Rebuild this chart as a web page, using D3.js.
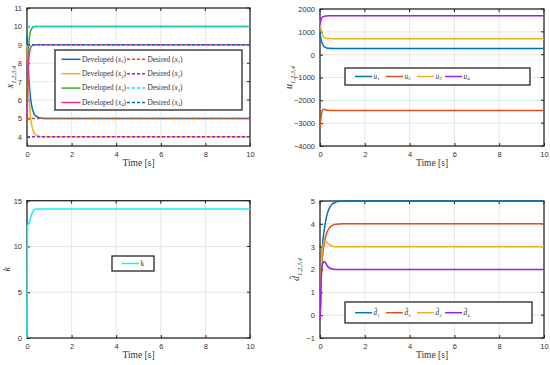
<!DOCTYPE html>
<html>
<head>
<meta charset="utf-8">
<script src="https://d3js.org/d3.v7.min.js"></script>
<style>
  body { margin: 0; background: #fff; }
  svg { display: block; font-family: "Liberation Serif", "DejaVu Serif", serif; }
  .grid line { stroke: #e0e0e0; stroke-width: 0.8; }
  .tick text { fill: #333; font-size: 7.5px; }
</style>
</head>
<body>
<svg id="chart" width="550" height="365"></svg>
<script>
// ---- data ----
const xTicks = [0, 2, 4, 6, 8, 10];

// panel 1: states
const tState = [0, 0.05, 0.1, 0.15, 0.2, 0.3, 0.4, 0.6, 0.8, 1, 10];
const x1 = [9.5, 8.0, 6.9, 6.2, 5.75, 5.3, 5.12, 5.02, 5, 5, 5];
const x2 = [9.0, 7.2, 6.0, 5.2, 4.7, 4.25, 4.1, 4.02, 4, 4, 4];
const x3 = [6.0, 8.3, 9.3, 9.7, 9.85, 9.97, 10, 10, 10, 10, 10];
const x4 = [5.0, 7.6, 8.5, 8.8, 8.92, 8.99, 9, 9, 9, 9, 9];
const tDesired = [0, 10];
const xd1 = [5, 5];
const xd2 = [4, 4];
const xd3 = [10, 10];
const xd4 = [9, 9];
const stateTicks = [4, 5, 6, 7, 8, 9, 10, 11];

// panel 2: inputs
const tInput = [0, 0.05, 0.1, 0.15, 0.2, 0.3, 0.4, 0.6, 1, 10];
const u1 = [950, 650, 500, 400, 340, 295, 280, 272, 270, 270];
const u2 = [-3200, -2700, -2450, -2390, -2400, -2430, -2440, -2450, -2450, -2450];
const u3 = [1500, 1100, 900, 800, 750, 715, 705, 700, 700, 700];
const u4 = [1300, 1550, 1640, 1670, 1685, 1695, 1700, 1700, 1700, 1700];
const inputTicks = [-4000, -3000, -2000, -1000, 0, 1000, 2000];

// panel 3: gain k
const tGain = [0, 0.02, 0.08, 0.18, 0.28, 0.4, 1, 10];
const k = [0, 12.3, 12.5, 13.3, 13.9, 14.08, 14.1, 14.1];
const gainTicks = [0, 5, 10, 15];

// panel 4: estimated disturbances
const tDist = [0, 0.05, 0.1, 0.2, 0.3, 0.4, 0.5, 0.7, 1, 10];
const dh1 = [-0.3, 1.8, 2.9, 3.8, 4.35, 4.65, 4.82, 4.95, 5, 5];
const dh2 = [-0.3, 1.5, 2.4, 3.2, 3.6, 3.8, 3.9, 3.98, 4, 4];
const dh3 = [-0.3, 1.8, 2.8, 3.25, 3.2, 3.1, 3.04, 3.0, 3, 3];
const dh4 = [-0.3, 1.5, 2.2, 2.35, 2.2, 2.08, 2.03, 2.0, 2, 2];
const distTicks = [-1, 0, 1, 2, 3, 4, 5];

const C = {
    blue: '#0072BD', orange: '#D95319', yellow: '#EDB120', purple: '#9B1FE8',
    green: '#3BAA32', magenta: '#F0259F', cyan: '#1FD3F5', cyanK: '#19F0F0'
};

const svg = d3.select('#chart');

// draw one panel; returns scales + group
function panel(box, yDomain, yTicks, yLabel, labelX) {
    const g = svg.append('g');
    const x = d3.scaleLinear().domain([0, 10]).range([box.x0, box.x1]);
    const y = d3.scaleLinear().domain(yDomain).range([box.y1, box.y0]);

    const grid = g.append('g').attr('class', 'grid');
    grid.selectAll('.gx').data(xTicks.slice(1, -1)).enter().append('line')
        .attr('x1', d => x(d)).attr('x2', d => x(d)).attr('y1', box.y0).attr('y2', box.y1);
    grid.selectAll('.gy').data(yTicks.filter(v => v > yDomain[0] && v < yDomain[1])).enter().append('line')
        .attr('y1', d => y(d)).attr('y2', d => y(d)).attr('x1', box.x0).attr('x2', box.x1);

    const fmt = d => d < 0 ? '\u2212' + Math.abs(d) : String(d);
    g.append('g').attr('transform', `translate(0,${box.y1})`)
        .call(d3.axisBottom(x).tickValues(xTicks).tickSize(-3).tickPadding(6).tickFormat(fmt))
        .call(s => s.select('.domain').remove())
        .call(s => s.selectAll('line').attr('stroke', '#222'));
    g.append('g').attr('transform', `translate(${box.x0},0)`)
        .call(d3.axisLeft(y).tickValues(yTicks).tickSize(-3).tickPadding(5).tickFormat(fmt))
        .call(s => s.select('.domain').remove())
        .call(s => s.selectAll('line').attr('stroke', '#222'));
    // mirrored ticks on top/right
    g.append('g').selectAll('line').data(xTicks).enter().append('line')
        .attr('x1', d => x(d)).attr('x2', d => x(d)).attr('y1', box.y0).attr('y2', box.y0 + 3).attr('stroke', '#222');
    g.append('g').selectAll('line').data(yTicks).enter().append('line')
        .attr('y1', d => y(d)).attr('y2', d => y(d)).attr('x1', box.x1).attr('x2', box.x1 - 3).attr('stroke', '#222');

    g.append('text').attr('x', (box.x0 + box.x1) / 2).attr('y', box.y1 + 20)
        .attr('text-anchor', 'middle').attr('font-size', 9.5).attr('fill', '#333').text('Time [s]');

    const lbl = g.append('text')
        .attr('transform', `translate(${labelX},${(box.y0 + box.y1) / 2}) rotate(-90)`)
        .attr('text-anchor', 'middle').attr('font-size', 10).attr('fill', '#333');
    lbl.append('tspan').attr('font-style', 'italic').text(yLabel[0]);
    if (yLabel[1]) {
        lbl.append('tspan').attr('font-size', 6.5).attr('dy', 2.5).attr('font-style', 'italic').text(yLabel[1]);
    }

    // frame under the data, like MATLAB's default axes layer
    g.append('rect')
        .attr('x', box.x0).attr('y', box.y0).attr('width', box.x1 - box.x0).attr('height', box.y1 - box.y0)
        .attr('fill', 'none').attr('stroke', '#262626').attr('stroke-width', 1.3);
    const plot = g.append('g');
    return {g, plot, x, y};
}

function series(p, ts, vs, color, dashed) {
    const line = d3.line().x((d, i) => p.x(ts[i])).y(d => p.y(d)).curve(d3.curveMonotoneX);
    p.plot.append('path').datum(vs).attr('d', line)
        .attr('fill', 'none').attr('stroke', color).attr('stroke-width', 1.5)
        .attr('stroke-dasharray', dashed ? '3,2' : null);
}

function legend(p, box, items, rowH, startY, lineLen) {
    const lg = p.g.append('g');
    lg.append('rect').attr('x', box[0]).attr('y', box[1]).attr('width', box[2]).attr('height', box[3])
        .attr('fill', '#fff').attr('stroke', '#262626').attr('stroke-width', 1.3);
    items.forEach(it => {
        const yy = startY + it.row * rowH;
        const xx = it.x;
        lg.append('line').attr('x1', xx).attr('x2', xx + lineLen).attr('y1', yy).attr('y2', yy)
            .attr('stroke', it.color).attr('stroke-width', 1.5).attr('stroke-dasharray', it.dashed ? '3,2' : null);
        const t = lg.append('text').attr('x', xx + lineLen + 1.5).attr('y', yy + 2.3)
            .attr('font-size', 7.3).attr('fill', '#333');
        t.append('tspan').text(it.pre || '');
        if (it.sym) {
            t.append('tspan').attr('font-style', 'italic').text(it.sym);
            t.append('tspan').attr('font-size', 4.8).attr('dy', 1.5).text(it.sub);
            if (it.post) t.append('tspan').attr('dy', -1.5).text(it.post);
        }
    });
}

// ---- panel 1 ----
const p1 = panel({x0: 27, x1: 250, y0: 8, y1: 146}, [3.5, 11], stateTicks, ['x', '1,2,3,4'], 13);
[[x1, C.blue], [x2, C.yellow], [x3, C.green], [x4, C.magenta]].forEach(s => series(p1, tState, s[0], s[1]));
[[xd1, C.orange], [xd2, C.purple], [xd3, C.cyan], [xd4, C.blue]].forEach(s => series(p1, tDesired, s[0], s[1], true));
const devColors = [C.blue, C.yellow, C.green, C.magenta];
const desColors = [C.orange, C.purple, C.cyan, C.blue];
const items1 = [];
[1, 2, 3, 4].forEach((n, i) => {
    items1.push({row: i, x: 61.5, color: devColors[i], pre: 'Developed (', sym: 'x', sub: n, post: ')'});
    items1.push({row: i, x: 127, color: desColors[i], dashed: true, pre: 'Desired (', sym: 'x', sub: n, post: ')'});
});
legend(p1, [55, 50, 187, 60], items1, 14.4, 59.3, 19);

// ---- panel 2 ----
const p2 = panel({x0: 320, x1: 544, y0: 9, y1: 146}, [-4000, 2000], inputTicks, ['u', '1,2,3,4'], 292);
[[u1, C.blue], [u2, C.orange], [u3, C.yellow], [u4, C.purple]].forEach(s => series(p2, tInput, s[0], s[1]));
const four = [C.blue, C.orange, C.yellow, C.purple];
const xs2 = [355, 386, 417, 445];
legend(p2, [345, 68, 185, 17], four.map((c, i) => ({
    row: 0, x: xs2[i], color: c, sym: 'u', sub: i + 1
})), 0, 76.5, 17);

// ---- panel 3 ----
const p3 = panel({x0: 27, x1: 250, y0: 200.7, y1: 338}, [0, 15], gainTicks, ['k'], 10);
series(p3, tGain, k, C.cyanK);
legend(p3, [112, 256, 42, 15], [{row: 0, x: 121.5, color: C.cyanK, pre: 'k'}], 0, 263.5, 17.5);

// ---- panel 4 ----
const p4 = panel({x0: 320, x1: 544, y0: 201, y1: 338}, [-1, 5], distTicks, ['d\u0302', '1,2,3,4'], 299);
[[dh1, C.blue], [dh2, C.orange], [dh3, C.yellow], [dh4, C.purple]].forEach(s => series(p4, tDist, s[0], s[1]));
legend(p4, [345, 302, 187, 21], four.map((c, i) => ({
    row: 0, x: xs2[i], color: c, sym: 'd\u0302', sub: i + 1
})), 0, 312.7, 17);
</script>
</body>
</html>
